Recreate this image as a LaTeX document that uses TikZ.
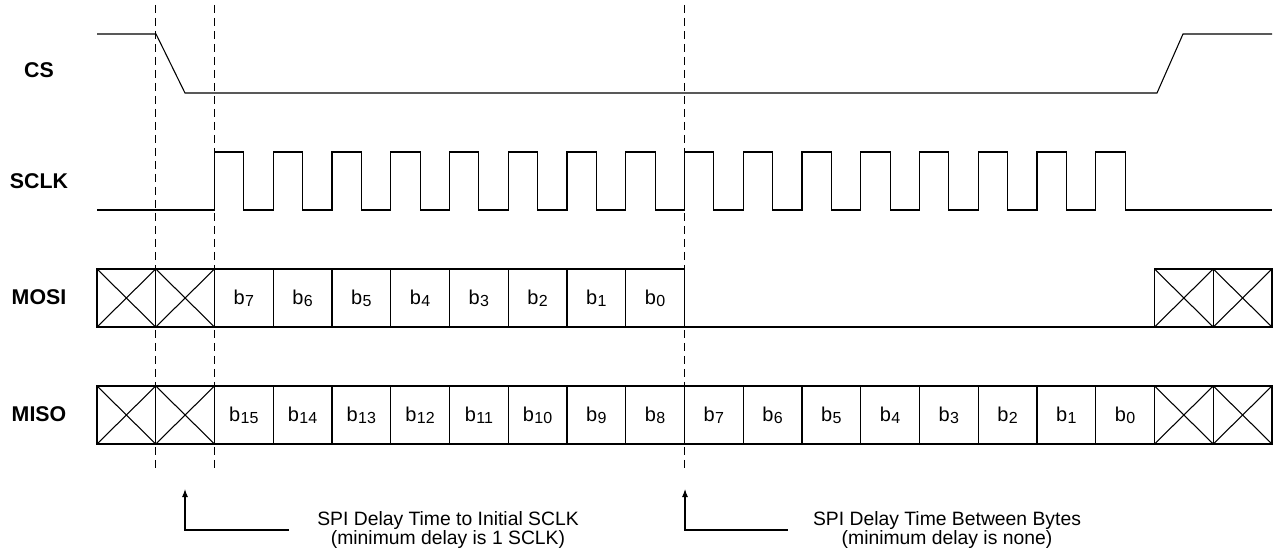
\documentclass[tikz,border=0pt]{standalone}
\usepackage{fontspec}
\setmainfont{Liberation Sans}
\usetikzlibrary{arrows.meta}
\newcommand\bitname[1]{b\kern0.3pt\raisebox{-1.5pt}{\fontsize{12}{12}\selectfont #1}}
\begin{document}
\begin{tikzpicture}[x=0.75pt,y=-0.75pt,
  sig/.style={line width=0.8pt},
  guide/.style={line width=0.65pt, dash pattern=on 6pt off 3.75pt},
  lbl/.style={font=\bfseries\fontsize{16}{18}\selectfont},
  bit/.style={font=\fontsize{15}{17}\selectfont},
  note/.style={font=\fontsize{14.5}{12}\selectfont, align=center, inner sep=0pt}]
\useasboundingbox (0,0) rectangle (1281,555);
\def\w{58.75}

% signal names
\node[lbl] (cs) at (39,70) {CS};
\node[lbl] (sclk) at (39,181) {SCLK};
\node[lbl] (mosi) at (39,297) {MOSI};
\node[lbl] (miso) at (39,414) {MISO};

% CS
\draw[sig] (97,34) -- (156,34) -- (185,93) -- (1157,93) -- (1183,34) -- (1272,34);

% SCLK
\draw[sig] (97,210) foreach \k in {2,...,17} {
  -- ({97+\k*\w},210) -- ({97+\k*\w},152)
  -- ({97+(\k+0.5)*\w},152) -- ({97+(\k+0.5)*\w},210) } -- (1272,210);

% don't care cells
\foreach \k in {0,1,18,19} {
  \foreach \y in {269,386} {
    \draw[sig] ({97+\k*\w},\y) rectangle ({97+(\k+1)*\w},\y+58);
    \draw[sig] ({97+\k*\w},\y) -- ({97+(\k+1)*\w},\y+58);
    \draw[sig] ({97+\k*\w},\y+58) -- ({97+(\k+1)*\w},\y);
  }
}

% MOSI data
\foreach \k [evaluate=\k as \b using int(9-\k)] in {2,...,9} {
  \draw[sig] ({97+\k*\w},269) rectangle ({97+(\k+1)*\w},327);
  \node[bit] (mo\b) at ({97+(\k+0.5)*\w},298) {\bitname{\b}};
}
\draw[sig] ({97+10*\w},327) -- ({97+18*\w},327);

% MISO data
\foreach \k [evaluate=\k as \b using int(17-\k)] in {2,...,17} {
  \draw[sig] ({97+\k*\w},386) rectangle ({97+(\k+1)*\w},444);
  \node[bit] (mi\b) at ({97+(\k+0.5)*\w},415) {\bitname{\b}};
}

% timing guides
\foreach \k in {1,2,10}
  \draw[guide] ({97+\k*\w},5) -- ({97+\k*\w},472);

% notes
\node[note] (note1) at (448,530) {SPI Delay Time to Initial SCLK\\(minimum delay is 1 SCLK)};
\node[note] (note2) at (947,530) {SPI Delay Time Between Bytes\\(minimum delay is none)};
\coordinate (tip1) at (185,489);
\coordinate (tip2) at (685,489);
\draw[sig,-{Latex[length=6pt,width=4.5pt]}] ([xshift=-21pt]note1.west) -| (tip1);
\draw[sig,-{Latex[length=6pt,width=4.5pt]}] ([xshift=-18.75pt]note2.west) -| (tip2);
\end{tikzpicture}
\end{document}
